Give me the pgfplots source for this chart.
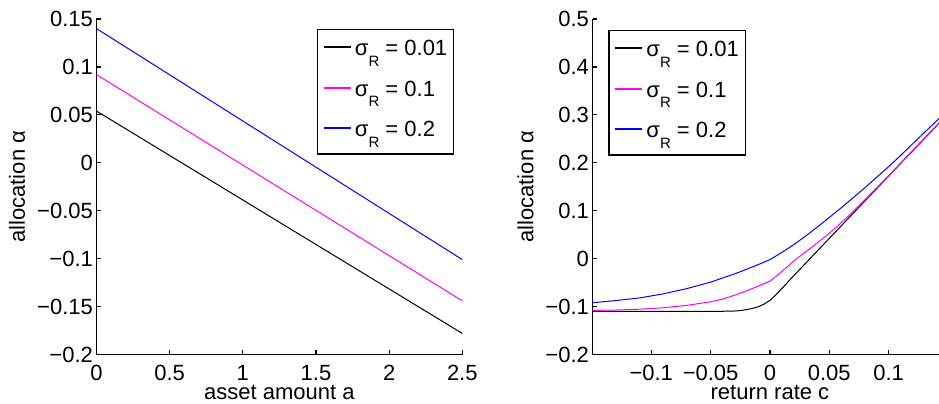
\documentclass[border=0pt]{standalone}
\usepackage{fontspec}
\setmainfont{Liberation Sans}
\usepackage{pgfplots}
\pgfplotsset{compat=1.18}

\definecolor{lineblack}{RGB}{0,0,0}
\definecolor{linemagenta}{RGB}{255,0,255}
\definecolor{lineblue}{RGB}{0,0,255}

% lowered subscript R used in the legend entries
\newcommand{\sR}{\raisebox{-5.3pt}{\fontsize{7.5}{8}\selectfont R}}

\pgfplotsset{
  panel/.style={
    scale only axis,
    anchor=south west,
    height=167.75pt,
    axis lines=left,
    axis line style={-, line width=0.6pt},
    every tick/.style={draw=black, line width=0.6pt},
    tick align=inside,
    major tick length=2.2pt,
    enlargelimits=false,
    font=\fontsize{11}{13}\selectfont,
    tick label style={font=\fontsize{11}{13}\selectfont},
    yticklabel style={inner sep=0pt, xshift=-1.6pt},
    xticklabel style={inner sep=0pt, yshift=-5.0pt},
    label style={font=\fontsize{11}{13}\selectfont, inner sep=0pt},
    ylabel={allocation α},
    legend cell align=left,
    legend style={draw=black, line width=0.6pt,
      font=\fontsize{11}{13}\selectfont,
      inner xsep=3.2pt, inner ysep=3.4pt, row sep=5.5pt,
      nodes={inner sep=0pt, text height=9.6pt, text depth=5.2pt},
      /tikz/every odd column/.append style={column sep=2pt}},
  },
  % one style per series: line colour and a matching legend swatch
  sblack/.style={draw=lineblack, line width=0.5pt,
    legend image code/.code={\fill[lineblack] (0pt,1.75pt) rectangle (13pt,2.3pt);}},
  smagenta/.style={draw=linemagenta, line width=0.5pt,
    legend image code/.code={\fill[linemagenta] (0pt,1.75pt) rectangle (13pt,2.3pt);}},
  sblue/.style={draw=lineblue, line width=0.5pt,
    legend image code/.code={\fill[lineblue] (0pt,1.75pt) rectangle (13pt,2.3pt);}},
}

\begin{document}
\begin{tikzpicture}
\useasboundingbox (0,0) rectangle (469.5pt,201.5pt);
\clip (0,0) rectangle (469.5pt,201.5pt);

% allocation against asset amount
\begin{axis}[panel,
  at={(48.25pt,24.25pt)}, width=182.9pt,
  xmin=0, xmax=2.5, ymin=-0.2, ymax=0.15,
  xtick={0,0.5,1,1.5,2,2.5},
  xticklabels={0,0.5,1,1.5,2,2.5},
  ytick={-0.2,-0.15,-0.1,-0.05,0,0.05,0.1,0.15},
  yticklabels={−0.2,−0.15,−0.1,−0.05,0,0.05,0.1,0.15},
  xlabel={asset amount a},
  xlabel style={at={(axis description cs:0.5,-0.1356)}, anchor=base},
  ylabel style={at={(axis description cs:-0.1955,0.5)}, anchor=base},
  legend style={at={(0.978,0.970)}, anchor=north east},
]
\addplot[sblack] coordinates {(0,0.054) (0.5,0.0076) (1,-0.0388) (1.5,-0.0852) (2,-0.1316) (2.5,-0.178)};
\addlegendentry{σ\sR{} = 0.01}
\addplot[smagenta] coordinates {(0,0.092) (0.5,0.0448) (1,-0.0024) (1.5,-0.0496) (2,-0.0968) (2.5,-0.144)};
\addlegendentry{σ\sR{} = 0.1}
\addplot[sblue] coordinates {(0,0.140) (0.5,0.0918) (1,0.0436) (1.5,-0.0046) (2,-0.0528) (2.5,-0.101)};
\addlegendentry{σ\sR{} = 0.2}
\end{axis}

% allocation against return rate
\begin{axis}[panel,
  at={(296.25pt,24.25pt)}, width=177.45pt,
  xmin=-0.1495, xmax=0.1495, ymin=-0.2, ymax=0.5,
  xtick={-0.1,-0.05,0,0.05,0.1},
  xticklabels={−0.1,−0.05,0,0.05,0.1},
  ytick={-0.2,-0.1,0,0.1,0.2,0.3,0.4,0.5},
  yticklabels={−0.2,−0.1,0,0.1,0.2,0.3,0.4,0.5},
  xlabel={return rate c},
  xlabel style={at={(axis description cs:0.5,-0.1356)}, anchor=base},
  ylabel style={at={(axis description cs:-0.1668,0.5)}, anchor=base},
  legend style={at={(0.045,0.967)}, anchor=north west},
]
\addplot[sblack] coordinates {
  (-0.1495,-0.110) (-0.05,-0.110) (-0.04,-0.1098) (-0.03,-0.1093) (-0.025,-0.1083)
  (-0.02,-0.1065) (-0.015,-0.104) (-0.01,-0.1005) (-0.005,-0.095) (0,-0.087)
  (0.005,-0.0755) (0.01,-0.0625) (0.02,-0.0357) (0.04,0.0163) (0.06,0.0683)
  (0.08,0.1203) (0.10,0.1723) (0.12,0.2243) (0.14,0.2763) (0.1495,0.301)};
\addlegendentry{σ\sR{} = 0.01}
\addplot[smagenta] coordinates {
  (-0.1495,-0.108) (-0.13,-0.1072) (-0.11,-0.1055) (-0.09,-0.1025) (-0.07,-0.0975)
  (-0.05,-0.0900) (-0.04,-0.0845) (-0.03,-0.0765) (-0.02,-0.0675) (-0.01,-0.0575)
  (0,-0.047) (0.01,-0.027) (0.02,-0.005) (0.03,0.014) (0.04,0.033) (0.05,0.053)
  (0.06,0.075) (0.07,0.098) (0.08,0.123) (0.09,0.148) (0.10,0.173)
  (0.12,0.225) (0.1424,0.283) (0.1495,0.302)};
\addlegendentry{σ\sR{} = 0.1}
\addplot[sblue] coordinates {
  (-0.1495,-0.092) (-0.13,-0.0875) (-0.11,-0.082) (-0.09,-0.0735) (-0.07,-0.0625)
  (-0.05,-0.049) (-0.04,-0.0405) (-0.03,-0.032) (-0.02,-0.0225) (-0.01,-0.0125)
  (0,-0.002) (0.01,0.013) (0.02,0.029) (0.03,0.047) (0.04,0.066) (0.05,0.086)
  (0.06,0.106) (0.07,0.127) (0.08,0.148) (0.09,0.170) (0.10,0.192) (0.11,0.215)
  (0.12,0.239) (0.13,0.263) (0.1424,0.292) (0.1495,0.309)};
\addlegendentry{σ\sR{} = 0.2}
\end{axis}
\end{tikzpicture}
\end{document}
